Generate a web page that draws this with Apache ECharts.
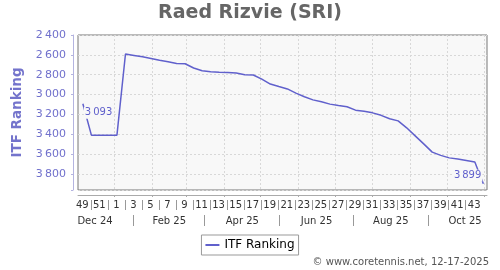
<!DOCTYPE html>
<html>
<head>
<meta charset="utf-8">
<script src="https://cdn.jsdelivr.net/npm/echarts@6/dist/echarts.min.js"></script>
<style>html,body{margin:0;padding:0;background:#fff}#c{width:500px;height:270px}</style>
</head>
<body>
<div id="c"></div>
<script>
// ---- data ----
var titleText = 'Raed Rizvie (SRI)';
var seriesName = 'ITF Ranking';
var firstPointDate = '2024-12-06'; // weekly points (Fridays)
var rankings = [3093, 3410, 3410, 3410, 3410, 2592, 2606, 2620, 2636, 2655,
  2670, 2688, 2690, 2733, 2761, 2771, 2775, 2778, 2784, 2801,
  2803, 2845, 2895, 2920, 2944, 2986, 3023, 3054, 3074, 3097,
  3111, 3124, 3158, 3170, 3185, 3210, 3245, 3266, 3336, 3417,
  3498, 3581, 3614, 3639, 3650, 3665, 3680, 3899];
var axisStartDate = '2024-12-02';
var axisEndDate = '2025-11-03';
var firstWeekMonday = '2024-12-02';
var weekLabels = [49, 51, 1, 3, 5, 7, 9, 11, 13, 15, 17, 19, 21, 23, 25, 27, 29, 31, 33, 35, 37, 39, 41, 43];
var monthStarts = ['2025-01-01', '2025-02-01', '2025-03-01', '2025-04-01', '2025-05-01', '2025-06-01',
  '2025-07-01', '2025-08-01', '2025-09-01', '2025-10-01', '2025-11-01'];
var monthLabels = ['Dec 24', 'Feb 25', 'Apr 25', 'Jun 25', 'Aug 25', 'Oct 25'];
var monthLabelDates = ['2024-12-16', '2025-02-15', '2025-04-16', '2025-06-16', '2025-08-16', '2025-10-16'];
var monthSepDates = ['2025-01-16', '2025-03-16', '2025-05-16', '2025-07-16', '2025-09-16'];
var yTicks = {min: 2400, max: 3963, step: 200};
var copyright = '\u00a9 www.coretennis.net, 12-17-2025';

// ---- helpers ----
function dayNum(s) {
  var p = s.split('-');
  return (Date.UTC(+p[0], +p[1] - 1, +p[2]) - Date.UTC(2025, 0, 1)) / 86400000;
}
var x0 = dayNum(axisStartDate), x1 = dayNum(axisEndDate);
var fp = dayNum(firstPointDate);
var weekMon0 = dayNum(firstWeekMonday);
var labelPos = weekLabels.map(function (w, i) { return weekMon0 + 3.5 + 14 * i; });
var sepPos = weekLabels.slice(0, -1).map(function (w, i) { return weekMon0 + 10.5 + 14 * i; });
var monthLabelPos = monthLabelDates.map(dayNum);
function fmtNum(v) {
  var s = String(Math.round(v));
  return s.replace(/\B(?=(\d{3})+(?!\d))/g, '\u2009');
}
var FONT = 'DejaVu Sans';
var lineColor = '#6060cc';

var data = rankings.map(function (v, i) {
  var item = {value: [fp + 7 * i, v]};
  if (i === 0) {
    item.label = {show: true, position: 'right', distance: 1, offset: [0, 9]};
  } else if (i === rankings.length - 1) {
    item.label = {show: true, position: 'left', distance: 1, offset: [0, -8]};
  }
  return item;
});

var chart = echarts.init(document.getElementById('c'), null, {renderer: 'canvas'});
chart.setOption({
  animation: false,
  textStyle: {fontFamily: FONT},
  title: [{
    text: titleText, left: 'center', top: 4, padding: 0,
    textStyle: {fontFamily: FONT, fontSize: 19, fontWeight: 'bold', color: '#666'}
  }, {
    text: copyright, right: 11, top: 257, padding: 0,
    textStyle: {fontFamily: FONT, fontSize: 10, fontWeight: 'normal', color: '#555'}
  }],
  legend: {
    data: [seriesName], left: 'center', top: 235,
    borderColor: '#999', borderWidth: 1, borderRadius: 0, padding: [4, 4, 4, 4],
    icon: 'rect', itemWidth: 14, itemHeight: 2,
    textStyle: {fontFamily: FONT, fontSize: 12, color: '#000'}
  },
  grid: {
    left: 78, right: 13, top: 35, bottom: 80, containLabel: false, outerBoundsMode: 'none',
    show: true, backgroundColor: '#f8f8f8', borderColor: '#777', borderWidth: 1
  },
  xAxis: [{
    type: 'value', min: x0, max: x1, position: 'bottom', offset: 5,
    axisLine: {show: true, onZero: false, lineStyle: {color: '#aaa', width: 1}},
    axisTick: {show: true, customValues: monthStarts.map(dayNum), length: 2, lineStyle: {color: '#aaa'}},
    axisLabel: {show: false},
    splitLine: {show: true, lineStyle: {color: '#d8d8d8', type: [2, 2], width: 1}}
  }, {
    type: 'value', min: x0, max: x1, position: 'bottom', offset: 10,
    axisLine: {show: false, onZero: false},
    axisTick: {show: true, customValues: sepPos, length: 10, lineStyle: {color: '#999'}},
    axisLabel: {
      show: true, customValues: labelPos, margin: 5, verticalAlign: 'middle',
      fontFamily: FONT, fontSize: 10, color: '#333',
      formatter: function (v) {
        var idx = labelPos.findIndex(function (p) { return Math.abs(p - v) < 0.01; });
        return idx >= 0 ? String(weekLabels[idx]) : '';
      }
    },
    splitLine: {show: false}
  }, {
    type: 'value', min: x0, max: x1, position: 'bottom', offset: 25,
    axisLine: {show: false, onZero: false},
    axisTick: {show: true, customValues: monthSepDates.map(dayNum), length: 11, lineStyle: {color: '#999'}},
    axisLabel: {
      show: true, customValues: monthLabelPos, margin: 6, verticalAlign: 'middle',
      fontFamily: FONT, fontSize: 10, color: '#333',
      formatter: function (v) {
        var idx = monthLabelPos.findIndex(function (p) { return Math.abs(p - v) < 0.01; });
        return idx >= 0 ? monthLabels[idx] : '';
      }
    },
    splitLine: {show: false}
  }],
  yAxis: {
    type: 'value', inverse: true, min: yTicks.min, max: yTicks.max, interval: yTicks.step,
    position: 'left', offset: 5,
    name: seriesName, nameLocation: 'middle', nameGap: 42, nameRotate: 90,
    nameTextStyle: {fontFamily: FONT, fontSize: 13.5, fontWeight: 'bold', color: '#7474cc'},
    axisLine: {show: true, onZero: false, lineStyle: {color: '#b4b4e0', width: 1}},
    axisTick: {show: true, length: 2, lineStyle: {color: '#b4b4e0'}},
    axisLabel: {
      margin: 7, fontFamily: FONT, fontSize: 11, color: '#7070cc',
      formatter: function (v) { return v % yTicks.step === 0 ? fmtNum(v) : ''; }
    },
    splitLine: {show: true, lineStyle: {color: '#d8d8d8', type: [2, 2], width: 1}}
  },
  series: [{
    type: 'line', name: seriesName, xAxisIndex: 0, data: data,
    showSymbol: true, symbol: 'circle', symbolSize: 0,
    lineStyle: {color: lineColor, width: 1.5},
    itemStyle: {color: lineColor},
    label: {
      show: false, fontFamily: FONT, fontSize: 10, color: '#6060cc',
      backgroundColor: '#f8f8f8', padding: [1, 1, 1, 1],
      formatter: function (p) { return fmtNum(p.value[1]); }
    }
  }]
});
</script>
</body>
</html>
